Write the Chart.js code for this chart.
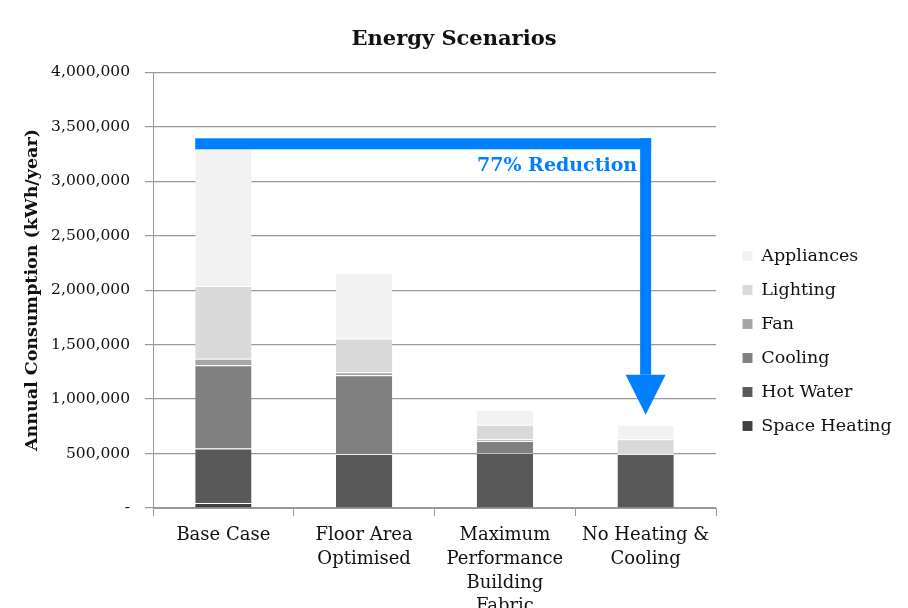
<!DOCTYPE html>
<html>
<head>
<meta charset="utf-8">
<script src="https://cdn.jsdelivr.net/npm/chart.js@4.4.1/dist/chart.umd.min.js"></script>
<style>
  html, body { margin: 0; padding: 0; background: #fff; }
  #wrap { width: 908px; height: 608px; }
</style>
</head>
<body>
<div id="wrap"><canvas id="chart" width="908" height="608"></canvas></div>
<script>
// Datos
const categories = ['Base Case', ['Floor Area', 'Optimised'], ['Maximum', 'Performance', 'Building', 'Fabric'], ['No Heating &', 'Cooling']];
const spaceHeating = [45000, 0, 0, 0];
const hotWater = [500000, 495000, 504000, 495000];
const cooling = [765000, 723000, 110000, 0];
const fan = [60000, 28000, 16000, 0];
const lighting = [667000, 310000, 133000, 135000];
const appliances = [1263000, 606000, 138000, 133000];
const yTicks = [0, 500000, 1000000, 1500000, 2000000, 2500000, 3000000, 3500000, 4000000];

// flecha: desde el caso base hasta "No Heating & Cooling"
const arrowLevel = 3343000;
const arrowHeadTop = 1223000;
const arrowTip = 855000;
const arrowLabel = '77% Reduction';

const serif = "'DejaVu Serif', serif";
const blue = '#0080ff';

const arrowPlugin = {
  id: 'arrow',
  afterDatasetsDraw(chart) {
    const ctx = chart.ctx;
    const x = chart.scales.x, y = chart.scales.y;
    const bar0 = chart.getDatasetMeta(0).data[0];
    const xStart = bar0.x - bar0.width / 2;
    const xEnd = x.getPixelForValue(3);
    const yLine = y.getPixelForValue(arrowLevel);
    const yHead = y.getPixelForValue(arrowHeadTop);
    const yTip = y.getPixelForValue(arrowTip);
    const w = 11;
    ctx.save();
    ctx.fillStyle = blue;
    ctx.fillRect(xStart, yLine - w / 2, xEnd - xStart + w / 2, w);
    ctx.fillRect(xEnd - w / 2, yLine - w / 2, w, yHead - yLine + w / 2);
    ctx.beginPath();
    ctx.moveTo(xEnd - 20, yHead);
    ctx.lineTo(xEnd + 20, yHead);
    ctx.lineTo(xEnd, yTip);
    ctx.closePath();
    ctx.fill();
    ctx.font = "bold 19px " + serif;
    ctx.textAlign = 'right';
    ctx.textBaseline = 'middle';
    ctx.fillText(arrowLabel, xEnd - w / 2 - 3, yLine + 22);
    ctx.restore();
  }
};

// leyenda: ancho fijo y desplazada como en el original
const legendSize = {
  id: 'legendSize',
  afterInit(chart) {
    const lg = chart.legend;
    const orig = lg.fit;
    lg.fit = function () { orig.call(this); this.width = 192; };
  },
  afterLayout(chart) {
    const lg = chart.legend;
    lg.top += 37; lg.bottom += 37;
    lg.left += 10; lg.right += 10;
  }
};

const ds = (label, data, color) => ({
  label, data, backgroundColor: color,
  borderColor: 'rgba(255,255,255,0.35)', borderWidth: { top: 1, left: 0, right: 0, bottom: 0 }, borderSkipped: 'start',
  barPercentage: 0.4, categoryPercentage: 1
});

new Chart(document.getElementById('chart'), {
  type: 'bar',
  data: {
    labels: categories,
    datasets: [
      ds('Space Heating', spaceHeating, '#404040'),
      ds('Hot Water', hotWater, '#595959'),
      ds('Cooling', cooling, '#808080'),
      ds('Fan', fan, '#a6a6a6'),
      ds('Lighting', lighting, '#d9d9d9'),
      ds('Appliances', appliances, '#f2f2f2')
    ]
  },
  options: {
    responsive: false,
    animation: false,
    layout: { padding: 0 },
    plugins: {
      title: {
        display: true,
        text: 'Energy Scenarios',
        color: '#111',
        font: { family: serif, size: 21, weight: 'bold' },
        padding: { top: 27, bottom: 20 }
      },
      legend: {
        position: 'right',
        reverse: true,
        labels: {
          color: '#111',
          font: { family: serif, size: 17.5 },
          boxWidth: 10,
          boxHeight: 10,
          padding: 16.5
        }
      },
      tooltip: { enabled: false }
    },
    scales: {
      x: {
        stacked: true,
        grid: { display: true, drawOnChartArea: false, drawTicks: true, tickLength: 8, color: '#999', offset: true },
        border: { color: '#999' },
        ticks: {
          color: '#111', maxRotation: 0, autoSkip: false, padding: 7,
          font: { family: serif, size: 18, lineHeight: 1.33 }
        },
        afterFit(scale) { scale.height = 100; }
      },
      y: {
        stacked: true,
        min: 0,
        max: 4000000,
        afterBuildTicks(scale) { scale.ticks = yTicks.map(v => ({ value: v })); },
        grid: { color: '#999', lineWidth: 1.2, tickLength: 8 },
        border: { color: '#999' },
        ticks: {
          color: '#111', padding: 15,
          font: { family: serif, size: 15.5 },
          callback: v => v === 0 ? '-' : v.toLocaleString('en-US')
        },
        title: {
          display: true,
          text: 'Annual Consumption (kWh/year)',
          color: '#111',
          font: { family: serif, size: 17.5, weight: 'bold' },
          padding: { top: 22, bottom: 0 }
        },
        afterFit(scale) { scale.width = 153; }
      }
    }
  },
  plugins: [arrowPlugin, legendSize]
});
</script>
</body>
</html>
